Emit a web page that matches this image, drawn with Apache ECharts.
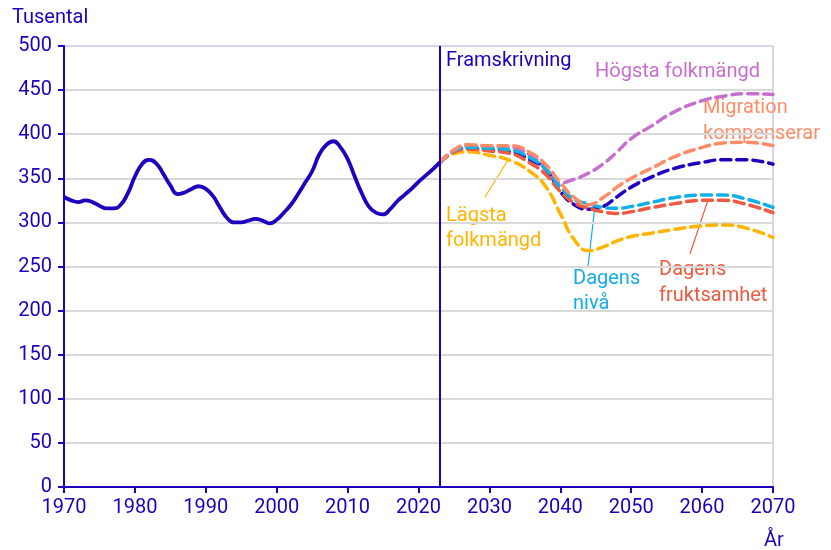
<!DOCTYPE html>
<html>
<head>
<meta charset="utf-8">
<script src="https://cdn.jsdelivr.net/npm/echarts@6/dist/echarts.min.js"></script>
<style>
  html, body { margin: 0; padding: 0; background: #fff; }
  #chart { width: 831px; height: 550px; }
</style>
</head>
<body>
<div id="chart"></div>
<script>
// historical population (thousands), yearly 1970-2023
const histYears = [
  1970, 1971, 1972, 1973, 1974, 1975, 1976, 1977, 1978, 1979,
  1980, 1981, 1982, 1983, 1984, 1985, 1986, 1987, 1988, 1989,
  1990, 1991, 1992, 1993, 1994, 1995, 1996, 1997, 1998, 1999,
  2000, 2001, 2002, 2003, 2004, 2005, 2006, 2007, 2008, 2009,
  2010, 2011, 2012, 2013, 2014, 2015, 2016, 2017, 2018, 2019,
  2020, 2021, 2022, 2023
]
const histValues = [
  329, 325, 323, 325, 323, 319, 316, 316, 320, 333,
  352, 366, 371, 367, 355, 342, 332, 334, 338, 341,
  338, 330, 317, 305, 300, 300, 302, 304, 302, 299,
  303, 311, 320, 332, 345, 358, 377, 388, 392, 385,
  372, 352, 333, 318, 311, 309, 315, 324, 331, 338,
  346, 353, 360, 368
]

// projection years
const projYears = [2023, 2025, 2027, 2030, 2033, 2036, 2038, 2040, 2042, 2044, 2046, 2048, 2050, 2053, 2056, 2060, 2063, 2066, 2070]

const huvud      = [368, 380, 384, 382, 380, 370, 360, 335, 320, 315, 318, 329, 340, 352, 361, 368, 371, 371, 366]
const hogsta     = [368, 382, 387, 386, 385, 375, 360, 345, 349, 356, 366, 380, 395, 410, 425, 438, 443, 446, 445]
const migration  = [368, 382, 388, 387, 387, 378, 365, 345, 328, 320, 328, 340, 350, 362, 374, 385, 390, 391, 387]
const dagensNiva = [368, 381, 385, 384, 382, 372, 360, 340, 326, 321, 317, 316, 318, 323, 328, 331, 331, 327, 317]
const fruktsamhet = [368, 380, 383, 381, 378, 366, 354, 335, 322, 316, 312, 310, 312, 317, 321, 325, 325, 321, 311]
const lagsta     = [368, 378, 380, 376, 370, 356, 340, 310, 280, 268, 272, 279, 284, 288, 292, 296, 297, 294, 283]

const NAVY = '#1e00be'
const PURPLE = '#c76fcf'
const SALMON = '#ff8c69'
const CYAN = '#14aee6'
const RED = '#ec5a40'
const YELLOW = '#ffb400'

const FONT = 'Roboto, "Noto Sans", sans-serif'

function pairs(xs, ys) {
  return xs.map((x, i) => [x, ys[i]])
}

function dashed(name, color, ys) {
  return {
    name: name,
    type: 'line',
    data: pairs(projYears, ys),
    smooth: true,
    symbol: 'none',
    lineStyle: { color: color, width: 3.5, type: [10, 6], cap: 'round' }
  }
}

const chart = echarts.init(document.getElementById('chart'))

chart.setOption({
  animation: false,
  grid: {
    left: 64, right: 58, top: 46, bottom: 63,
    show: true, borderColor: '#d4d4ee', borderWidth: 2
  },
  xAxis: {
    type: 'value',
    min: 1970, max: 2070, interval: 10,
    axisLine: { lineStyle: { color: NAVY, width: 2 } },
    axisTick: { show: true, length: 6, lineStyle: { color: NAVY, width: 2 } },
    axisLabel: { color: NAVY, fontSize: 20, fontFamily: FONT, margin: 11, formatter: v => String(v) },
    splitLine: { show: false }
  },
  yAxis: {
    type: 'value',
    min: 0, max: 500, interval: 50,
    axisLine: { show: true, lineStyle: { color: NAVY, width: 2 } },
    axisTick: { show: true, length: 6, lineStyle: { color: NAVY, width: 2 } },
    axisLabel: { color: NAVY, fontSize: 20, fontFamily: FONT, margin: 12 },
    splitLine: { show: true, showMaxLine: false, lineStyle: { color: '#d9d9d9', width: 2 } }
  },
  series: [
    dashed('Högsta folkmängd', PURPLE, hogsta),
    dashed('Huvudalternativ', NAVY, huvud),
    dashed('Lägsta folkmängd', YELLOW, lagsta),
    dashed('Dagens fruktsamhet', RED, fruktsamhet),
    dashed('Dagens nivå', CYAN, dagensNiva),
    dashed('Migration kompenserar', SALMON, migration),
    {
      name: 'Historik',
      type: 'line',
      data: pairs(histYears, histValues),
      smooth: true,
      symbol: 'none',
      lineStyle: { color: NAVY, width: 3.8 },
      markLine: {
        silent: true,
        symbol: 'none',
        label: { show: false },
        lineStyle: { color: NAVY, width: 2, type: 'solid' },
        data: [{ xAxis: 2023 }]
      }
    }
  ],
  graphic: [
    { type: 'text', left: 12, top: 8, style: { text: 'Tusental', fill: NAVY, font: '20px ' + FONT } },
    { type: 'text', left: 764, top: 531, style: { text: 'År', fill: NAVY, font: '20px ' + FONT } },
    { type: 'text', left: 446, top: 51, style: { text: 'Framskrivning', fill: NAVY, font: '20px ' + FONT } },
    { type: 'text', left: 595, top: 62, style: { text: 'Högsta folkmängd', fill: PURPLE, font: '20px ' + FONT } },
    { type: 'text', left: 703, top: 95, style: { text: 'Migration\nkompenserar', fill: SALMON, font: '20px ' + FONT, lineHeight: 26 } },
    { type: 'text', left: 446, top: 203, style: { text: 'Lägsta\nfolkmängd', fill: YELLOW, font: '20px ' + FONT, lineHeight: 25 } },
    { type: 'text', left: 573, top: 266, style: { text: 'Dagens\nnivå', fill: CYAN, font: '20px ' + FONT, lineHeight: 25 } },
    { type: 'text', left: 659, top: 257, style: { text: 'Dagens\nfruktsamhet', fill: RED, font: '20px ' + FONT, lineHeight: 26 } },
    { type: 'line', shape: { x1: 485, y1: 197, x2: 508, y2: 160 }, style: { stroke: YELLOW, lineWidth: 1.2 } },
    { type: 'line', shape: { x1: 588, y1: 266, x2: 595, y2: 206 }, style: { stroke: CYAN, lineWidth: 1.2 } },
    { type: 'line', shape: { x1: 690, y1: 254, x2: 708, y2: 200 }, style: { stroke: RED, lineWidth: 1.2 } }
  ]
})
</script>
</body>
</html>
